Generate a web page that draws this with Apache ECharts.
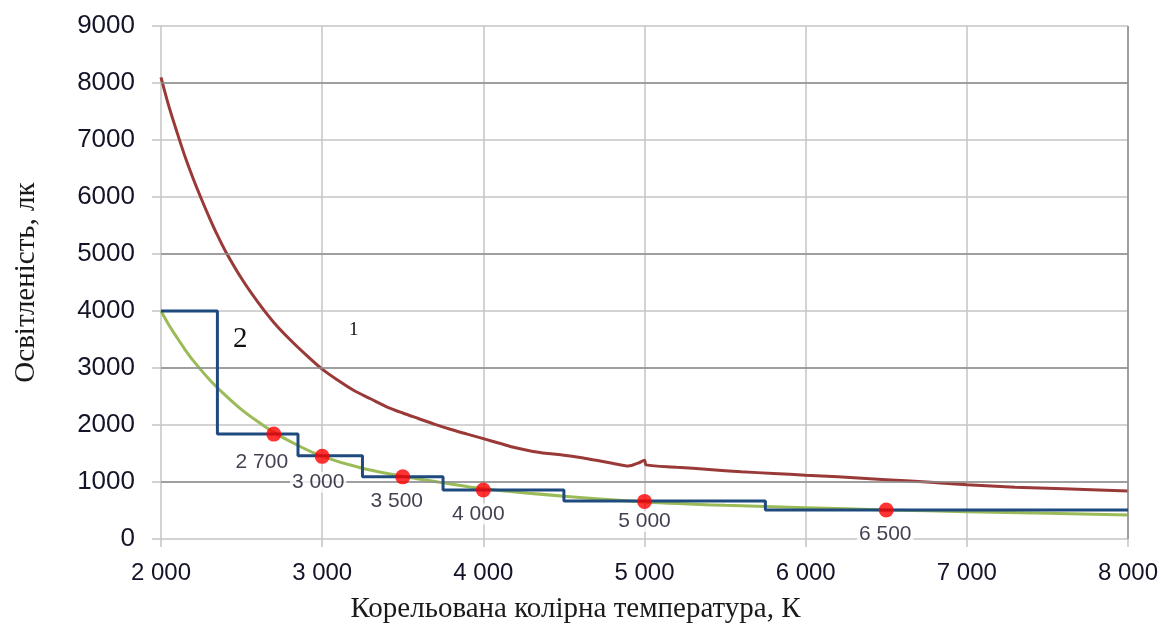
<!DOCTYPE html>
<html>
<head>
<meta charset="utf-8">
<script src="https://cdn.jsdelivr.net/npm/echarts@6/dist/echarts.min.js"></script>
<style>
html,body{margin:0;padding:0;background:#fff;}
#c{width:1161px;height:626px;}
</style>
</head>
<body>
<div id="c"></div>
<script>
// ---- data ----
const xTicks = [2000, 3000, 4000, 5000, 6000, 7000, 8000];
const yTicks = [0, 1000, 2000, 3000, 4000, 5000, 6000, 7000, 8000, 9000];

// curve 1 (upper limit)
const curve1T = [2000,2050,2100,2150,2200,2250,2300,2350,2400,2500,2600,2700,2800,2900,3000,3100,3200,3300,3400,3500,3600,3700,3800,3900,4000,4100,4200,4300,4400,4500,4600,4700,4800,4900,4960,5000,5010,5200,5400,5600,5800,6000,6200,6500,6800,7000,7300,7600,8000];
const curve1E = [8100,7580,7130,6700,6320,5970,5640,5330,5050,4570,4160,3800,3500,3230,2980,2780,2600,2460,2320,2210,2110,2010,1920,1840,1760,1680,1600,1540,1500,1470,1430,1380,1330,1280,1330,1380,1300,1260,1220,1180,1150,1120,1090,1040,990,950,910,880,840];

// lower curve (green)
const curveLowT = [2000,2050,2100,2150,2200,2300,2400,2500,2600,2700,2850,3000,3250,3500,3750,4000,4500,5000,5500,6000,6500,7000,7500,8000];
const curveLowE = [4000,3750,3530,3320,3130,2800,2520,2270,2060,1870,1640,1450,1240,1100,985,880,750,650,590,550,510,480,450,420];

// curve 2 (stepped)
const stepT = [2000,2350,2850,3250,3750,4500,5750,8000];
const stepE = [4000,1840,1460,1090,860,665,510,510];

// marked CCT points
const pointT = [2700,3000,3500,4000,5000,6500];
const pointE = [1840,1450,1090,860,660,510];
const pointLabels = ['2 700','3 000','3 500','4 000','5 000','6 500'];

const xName = 'Корельована колірна температура, К';
const yName = 'Освітленість, лк';
const curveNames = ['1', '2'];

// ---- layout (not data) ----
const labelNudge = [[-12,4],[-4,2],[-6,0],[-5,0],[0,-4],[-1,0]];

const zip = (a, b) => a.map((v, i) => [v, b[i]]);
const fmtX = v => v >= 1000 ? String(Math.floor(v/1000)) + ' ' + String(v%1000).padStart(3,'0') : String(v);
const fmtY = v => String(v);

const chart = echarts.init(document.getElementById('c'), null, {renderer:'canvas'});
chart.setOption({
  animation: false,
  backgroundColor: '#ffffff',
  grid: {left: 161, right: 33, top: 26, bottom: 87, containLabel: false, outerBoundsMode: 'none'},
  xAxis: {
    type: 'value', min: xTicks[0], max: xTicks[xTicks.length-1], interval: 1000,
    name: xName, nameLocation: 'middle', nameGap: 56,
    nameTextStyle: {fontFamily: 'Liberation Serif', fontSize: 29, color: '#1a1a1a', padding: [0, 138, 0, 0]},
    axisLine: {show: false},
    axisTick: {show: true, length: 8, lineStyle: {color: '#c4c4c4', width: 1.5}},
    axisLabel: {fontFamily: 'Liberation Sans', fontSize: 24, color: '#141428', margin: 22, formatter: fmtX},
    splitLine: {show: true, lineStyle: {color: '#c4c4c4', width: 1.5}}
  },
  yAxis: {
    type: 'value', min: yTicks[0], max: yTicks[yTicks.length-1], interval: 1000,
    name: yName, nameLocation: 'middle', nameGap: 120, nameRotate: 90,
    nameTextStyle: {fontFamily: 'Liberation Serif', fontSize: 29, color: '#1a1a1a'},
    axisLine: {show: false},
    axisTick: {show: true, length: 9, lineStyle: {color: '#c4c4c4', width: 1.5}},
    axisLabel: {fontFamily: 'Liberation Sans', fontSize: 26, color: '#141428', margin: 26, formatter: fmtY},
    splitLine: {show: true, lineStyle: {color: '#c4c4c4', width: 1.5}}
  },
  series: [
    {
      name: 'grid-accent', type: 'line', data: [], silent: true,
      markLine: {
        silent: true, symbol: 'none', label: {show: false},
        lineStyle: {color: '#8e8e8e', width: 1.5, type: 'solid'},
        data: [{yAxis: 8000}, {yAxis: 5000}, {yAxis: 3000}, {yAxis: 1000}, {xAxis: 8000}]
      }
    },
    {
      name: 'low', type: 'line', data: zip(curveLowT, curveLowE), smooth: 0.3,
      showSymbol: false, lineStyle: {color: '#9bbb59', width: 3}, z: 3
    },
    {
      name: 'upper', type: 'line', data: zip(curve1T, curve1E), smooth: 0.3,
      showSymbol: false, lineStyle: {color: '#9a3a38', width: 3}, z: 4
    },
    {
      name: 'step', type: 'line', step: 'end', data: zip(stepT, stepE),
      showSymbol: false, lineStyle: {color: '#1f4a7e', width: 3}, z: 5
    },
    {
      name: 'points', type: 'scatter', symbol: 'circle', symbolSize: 15, z: 6,
      itemStyle: {color: '#ff0000'},
      data: pointT.map((t, i) => ({
        value: [t, pointE[i]],
        label: {offset: labelNudge[i]}
      })),
      label: {
        show: true, position: 'bottom', distance: 6,
        formatter: p => pointLabels[p.dataIndex],
        fontFamily: 'Liberation Sans', fontSize: 21, color: '#101026',
        backgroundColor: '#ffffff', padding: [0, 2, 0, 2]
      }
    }
  ],
  graphic: [
    {type: 'text', left: 233, top: 325, style: {text: curveNames[1], font: '29px "Liberation Serif"', fill: '#111'}},
    {type: 'text', left: 349, top: 321, style: {text: curveNames[0], font: '19px "Liberation Serif"', fill: '#111'}}
  ]
});
</script>
</body>
</html>
